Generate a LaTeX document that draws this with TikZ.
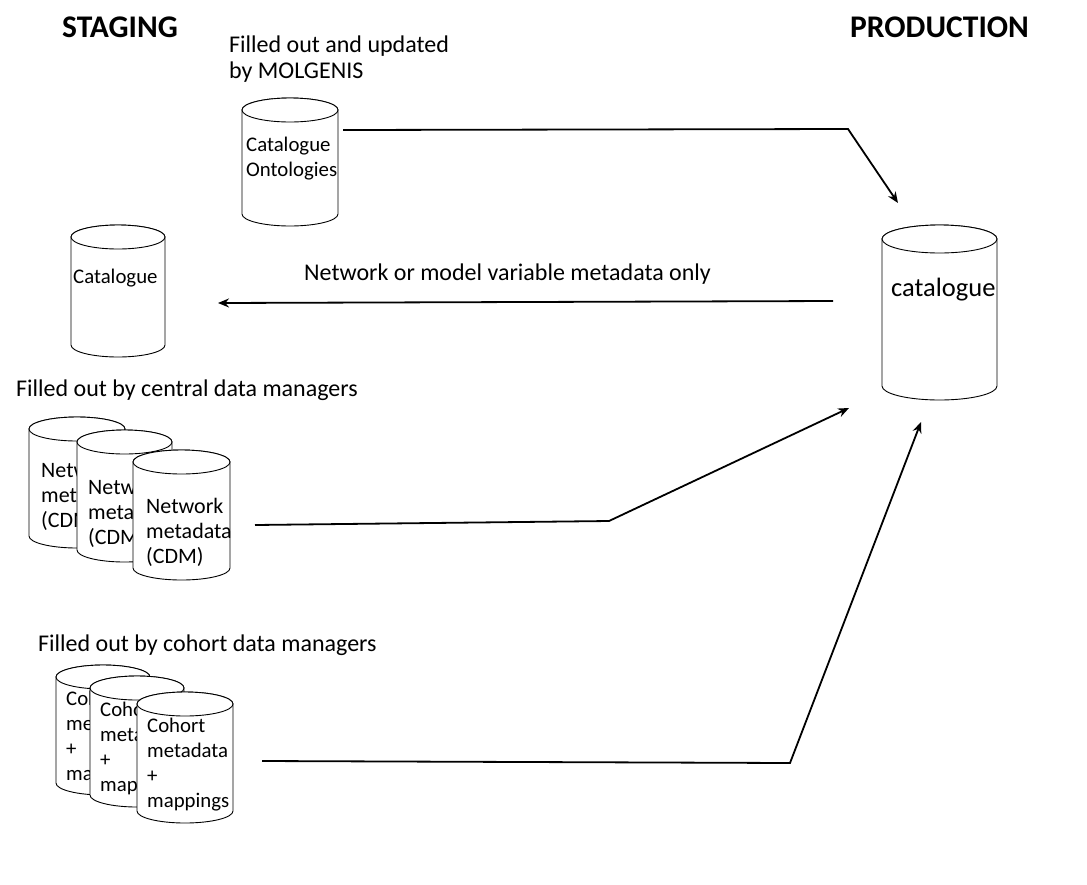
\documentclass[tikz,border=0pt]{standalone}
\usepackage{fontspec}
\setmainfont{Carlito}
\usetikzlibrary{arrows.meta}
\newcommand\dbcyl[6]{%
  \pgfmathsetmacro\cylrx{(#3-#2)/2}%
  \pgfmathsetmacro\cylcx{(#3+#2)/2}%
  \draw[cylline] (#2,#4) -- (#2,#5) arc[start angle=180,end angle=0,x radius=\cylrx,y radius=#6] -- (#3,#4) arc[start angle=0,end angle=-180,x radius=\cylrx,y radius=#6] -- cycle;
  \draw[cylline] (\cylcx,#4) ellipse[x radius=\cylrx,y radius=#6];
  \coordinate (#1) at (\cylcx,{(#4+#5)/2});
}
\tikzset{
  cylline/.style={draw=black, line width=0.9pt, fill=white},
  cyltext/.style={anchor=base west, inner sep=0pt, align=left, font=\fontsize{20.8}{25}\selectfont},
  nettext/.style={cyltext, font=\fontsize{22}{25}\selectfont},
  lbl/.style={anchor=base west, inner sep=0pt, align=left, font=\fontsize{24}{26}\selectfont},
  hdr/.style={anchor=base west, inner sep=0pt, font=\fontsize{31.5}{34}\selectfont\bfseries},
  flow/.style={draw=black, line width=1.8pt, -{Stealth[length=11pt,width=9pt]}}
}
\begin{document}
\begin{tikzpicture}[x=1pt,y=-1pt]
\useasboundingbox (0,0) rectangle (1087,884);
\fill[white] (0,0) rectangle (1087,884);

% headers
\node[hdr] (staging) at (62,37) {STAGING};
\node[hdr] (production) at (850,37) {PRODUCTION};

% labels (base anchor = baseline of the last line)
\node[lbl] (molg) at (229,78) {Filled out and updated\\by MOLGENIS};
\node[lbl] (netonly) at (304,280) {Network or model variable metadata only};
\node[lbl] (central) at (16,396) {Filled out by central data managers};
\node[lbl] (cohortlbl) at (38,651) {Filled out by cohort data managers};

% cylinders
\dbcyl{onto}{242}{338}{110}{214}{12}
\node[cyltext] (ontot) at (246,176) {Catalogue\\Ontologies};

\dbcyl{scat}{71}{165}{237}{345}{12}
\node[cyltext] (scatt) at (73,283) {Catalogue};

\dbcyl{pcat}{882}{997}{239}{386}{14}
\node[cyltext, font=\fontsize{26.5}{30}\selectfont] (pcatt) at (891,296) {catalogue};

\dbcyl{net1}{29}{125}{429}{536}{12}
\node[nettext] (net1t) at (41,527) {Network\\metadata\\(CDM)};
\dbcyl{net2}{77}{172}{442}{550}{12}
\node[nettext] (net2t) at (88,544) {Network\\metadata\\(CDM)};
\dbcyl{net3}{133}{230}{462}{568}{12}
\node[nettext] (net3t) at (146,563) {Network\\metadata\\(CDM)};

\dbcyl{coh1}{56}{150}{677}{783}{12}
\node[cyltext] (coh1t) at (66,780) {Cohort\\metadata\\+\\mappings};
\dbcyl{coh2}{90}{184}{688}{795}{12}
\node[cyltext] (coh2t) at (100,791) {Cohort\\metadata\\+\\mappings};
\dbcyl{coh3}{137}{233}{704}{811}{12}
\node[cyltext] (coh3t) at (147,807) {Cohort\\metadata\\+\\mappings};

% connectors
\coordinate (a1s) at (343,130);
\coordinate (a1m) at (848,129);
\coordinate (a1e) at (898,203);
\draw[flow] (a1s) -- (a1m) -- (a1e);

\coordinate (a2s) at (833,301);
\coordinate (a2e) at (218,303);
\draw[flow] (a2s) -- (a2e);

\coordinate (a3s) at (255,525);
\coordinate (a3m) at (609,521);
\coordinate (a3e) at (849,408);
\draw[flow] (a3s) -- (a3m) -- (a3e);

\coordinate (a4s) at (262,761);
\coordinate (a4m) at (790,763);
\coordinate (a4e) at (921,422);
\draw[flow] (a4s) -- (a4m) -- (a4e);
\end{tikzpicture}
\end{document}
